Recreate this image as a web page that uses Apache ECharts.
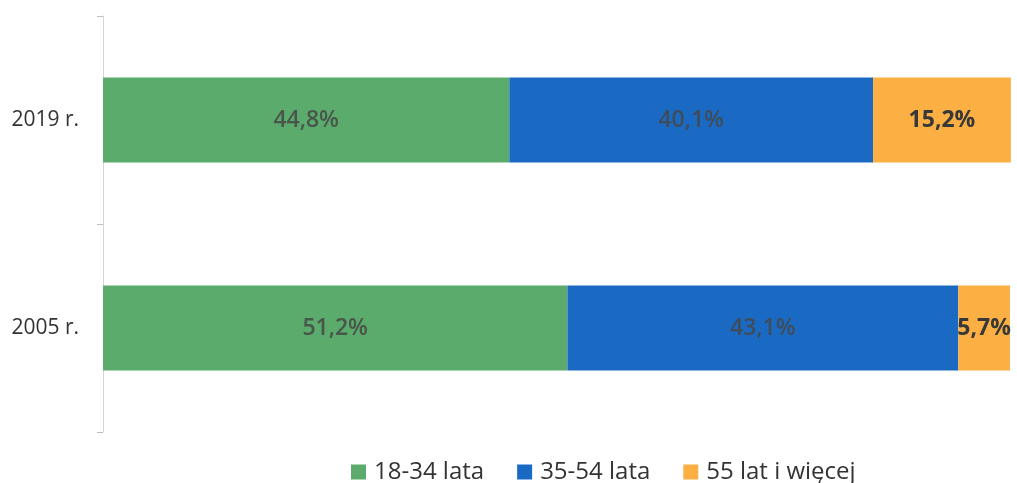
<!DOCTYPE html>
<html>
<head>
<meta charset="utf-8">
<script src="https://cdn.jsdelivr.net/npm/echarts@6/dist/echarts.min.js"></script>
<style>
  html, body { margin: 0; padding: 0; background: #ffffff; }
  #chart { width: 1017px; height: 483px; }
</style>
</head>
<body>
<div id="chart"></div>
<script>
// Age structure, share of each age group (%)
const years = ['2019 r.', '2005 r.'];
const seriesNames = ['18-34 lata', '35-54 lata', '55 lat i więcej'];
const age18to34 = [44.8, 51.2];
const age35to54 = [40.1, 43.1];
const age55plus = [15.2, 5.7];

const colors = ['#5bab6c', '#1a6ac4', '#fcb044'];
const valueSets = [age18to34, age35to54, age55plus];

const fmt = p => p.value.toFixed(1).replace('.', ',') + '%';

const chart = echarts.init(document.getElementById('chart'), null, { renderer: 'canvas' });

chart.setOption({
  backgroundColor: '#ffffff',
  animation: false,
  grid: { left: 103, right: 7, top: 16, bottom: 51, containLabel: false },
  legend: {
    data: seriesNames,
    left: 346,
    top: 455,
    itemWidth: 15,
    itemHeight: 15,
    itemGap: 33,
    icon: 'rect',
    textStyle: { fontFamily: 'Open Sans', fontSize: 24, color: '#333333', padding: [0, 0, 0, 3] }
  },
  xAxis: {
    type: 'value',
    min: 0,
    max: 100,
    show: false
  },
  yAxis: {
    type: 'category',
    data: years,
    inverse: true,
    axisLine: { show: true, lineStyle: { color: '#d4d4d8', width: 1 } },
    axisTick: { show: true, length: 6, lineStyle: { color: '#bdbdc2' } },
    axisLabel: { fontFamily: 'Open Sans', fontSize: 21, color: '#333333', margin: 24 }
  },
  series: valueSets.map((vals, i) => ({
    name: seriesNames[i],
    type: 'bar',
    stack: 'total',
    barWidth: 85,
    clip: false,
    data: vals,
    itemStyle: { color: colors[i] },
    label: {
      show: true,
      position: 'inside',
      formatter: fmt,
      fontFamily: 'Open Sans',
      fontSize: 23,
      fontWeight: i === 2 ? 'bold' : 600,
      color: i === 2 ? '#383838' : 'rgba(70,70,70,0.85)'
    }
  }))
});
</script>
</body>
</html>
